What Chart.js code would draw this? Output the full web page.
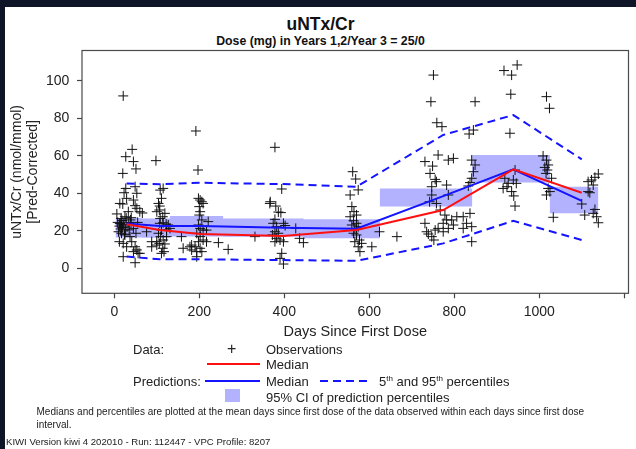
<!DOCTYPE html>
<html>
<head>
<meta charset="utf-8">
<title>uNTx/Cr VPC</title>
<script src="https://cdn.jsdelivr.net/npm/chart.js@4.4.0/dist/chart.umd.min.js"></script>
<style>
  html, body { margin: 0; padding: 0; background: #0d1526; }
  #page { position: relative; width: 636px; height: 449px; overflow: hidden; background: #0d1526;
          font-family: 'Liberation Sans', Arial, sans-serif; color: #222; }
  #panel { position: absolute; left: 5px; top: 7px; right: 0; bottom: 0; background: #fff; }
  #chart { position: absolute; left: 0; top: 0; }
  .t { position: absolute; white-space: nowrap; font-size: 13px; line-height: 15px; }
  .title { position: absolute; left: 0; width: 641px; text-align: center; font-weight: bold; color: #111; white-space: nowrap; }
  .swatch { position: absolute; }
  sup { font-size: 8px; line-height: 0; vertical-align: 5px; }
  .note { position: absolute; white-space: nowrap; color: #222; }
</style>
</head>
<body>
<div id="page">
  <div id="panel"></div>
  <div class="title" style="top:13.5px;font-size:17.5px;line-height:20px;">uNTx/Cr</div>
  <div class="title" style="top:33.5px;font-size:12.3px;line-height:15px;">Dose (mg) in Years 1,2/Year 3 = 25/0</div>
  <canvas id="chart" width="636" height="345"></canvas>

  <!-- legend -->
  <div class="t" style="left:133px;top:341.5px;">Data:</div>
  <div class="t" style="left:227px;top:340px;font-size:16px;line-height:18px;">+</div>
  <div class="t" style="left:266px;top:341.5px;">Observations</div>

  <div class="swatch" style="left:207px;top:362.5px;width:53px;height:2px;background:#ff1010;"></div>
  <div class="t" style="left:266px;top:356.5px;">Median</div>

  <div class="t" style="left:133px;top:373.5px;">Predictions:</div>
  <div class="swatch" style="left:205px;top:379.5px;width:55px;height:2px;background:#1414ff;"></div>
  <div class="t" style="left:266px;top:373.5px;">Median</div>
  <svg class="swatch" style="left:320px;top:375.5px;" width="48" height="10">
    <line x1="0" y1="5" x2="48" y2="5" stroke="#1414ff" stroke-width="2" stroke-dasharray="8,5"/>
  </svg>
  <div class="t" style="left:379px;top:373.5px;">5<sup>th</sup> and 95<sup>th</sup> percentiles</div>

  <div class="swatch" style="left:225px;top:389px;width:15px;height:13px;background:rgb(178,178,255);"></div>
  <div class="t" style="left:266px;top:389.5px;">95% CI of prediction percentiles</div>

  <div class="note" style="left:36.5px;top:404.6px;font-size:10px;line-height:13.3px;">Medians and percentiles are plotted at the mean days since first dose of the data observed within each days since first dose<br>interval.</div>
  <div class="note" style="left:6px;top:434.8px;font-size:9.6px;line-height:13px;">KIWI Version kiwi 4 202010 - Run: 112447 - VPC Profile: 8207</div>
</div>

<script>
// Bins: edges in days since first dose, and mean day of each bin
const binEdges = [3, 65, 131, 256, 445, 625, 842, 1025, 1139];
const binDays = [29, 107, 202, 397, 570, 774, 939, 1100];

// 95% CI of the predicted median, per bin
const ciLow  = [16.5, 16.3, 17.0, 16.9, 16.0, 33.0, 45.7, 29.3];
const ciHigh = [26.8, 26.6, 27.9, 26.6, 26.2, 42.6, 60.4, 43.5];

// Observed median and prediction percentiles at the bin means
const obsMedian  = [23.5, 20.4, 18.3, 17.2, 20.4, 31.1, 52.8, 40.3];
const predMedian = [23.9, 22.6, 22.6, 21.6, 21.1, 38.5, 52.8, 36.0];
const pred5      = [6.3, 4.8, 4.8, 4.4, 4.0, 13.3, 25.3, 15.1];
const pred95     = [45.2, 44.8, 45.6, 44.9, 43.5, 71.1, 81.7, 58.1];

// Prediction-corrected observations
const obsDays = [
  21,42,27,45,51,20,27,49,53,23,29,13,20,45,49,53,60,33,25,38,13,17,8,12,15,18,22,26,30,34,
  10,16,24,28,19,14,45,51,17,25,12,21,41,49,45,53,56,21,49,29,37,66,60,76,88,35,40,6,55,
  98,104,107,111,115,106,114,119,107,115,122,127,131,111,104,109,115,100,106,119,114,117,111,123,100,108,100,108,123,88,
  158,162,178,182,
  192,197,202,200,206,198,209,202,206,198,202,209,217,194,202,209,198,190,202,182,194,206,194,217,221,200,245,268,331,
  378,394,366,380,386,392,378,374,382,398,378,386,372,382,390,398,378,394,390,398,402,367,427,436,445,
  561,568,555,574,559,564,570,555,563,570,559,566,574,563,570,577,566,582,574,578,606,624,665,
  751,745,759,771,731,749,762,786,798,743,755,747,758,782,747,742,758,786,767,778,782,774,794,806,731,
  735,747,739,755,762,774,786,798,821,829,837,841,821,841,752,849,845,835,841,849,845,841,837,833,
  917,935,948,933,931,943,919,924,927,939,935,940,943,915,946,
  1017,1024,1009,1017,1021,1013,1019,1029,1016,1021,1017,1025,1033,
  1139,1131,1123,1115,1127,1115,1119,1100,1131,1107,1127,1135,1139
];
const obsValues = [
  91.9,63.4,59.5,56.9,53,50.6,42.6,43.5,40,40.3,37.3,34.6,34.3,36.4,33.4,32,30.2,30.2,27.5,25.8,24,23.1,24.5,22.5,21,25.5,23.5,20.5,22,24.5,
  19.5,26.5,18.2,26.8,21.8,23.8,21.3,18.7,18.7,17.8,14.2,13.3,14.2,11.5,8.9,9.8,8,6.2,3,11.5,16.9,29.5,8,19.5,14.2,20.5,27,29,24.5,
  57.4,34.6,33.2,37.3,42.6,31.1,27.5,29.3,24,24.3,23.6,23.1,21.3,20.4,18.7,16.9,15.1,14.2,13.3,13,10.7,8.9,8,16.9,12.4,41.7,30.2,26.6,20.4,11.5,
  16.9,10.7,11.5,12.4,
  73.2,52.4,36.4,32.9,35.5,37.3,34.6,30.2,25.8,23.1,21.3,20.4,20.4,18.7,16.9,15.1,14.2,11.5,10.7,9.8,8.9,8.9,6.2,14.2,24.9,28.4,13.7,10.1,16.9,
  64.5,42.3,34.6,33.2,30,29.7,26.1,24,22.2,24,19.5,18.7,17.8,16,15.1,14.2,14.2,8,5.3,2.3,22.8,35.5,21.3,16,13.7,
  51.5,47.6,39.1,41.8,32.9,30.2,28.4,27.5,25.4,24,23.1,21.3,22.2,18.7,17.8,15.1,14.2,13.3,11.5,8.9,11.5,19.5,16.9,
  103,88.8,77.6,75.5,56.9,54.5,60.4,57.7,58.6,50.6,47.4,43.5,46.2,44.4,39.1,35.5,34.6,39.1,31.1,28.4,25.8,24,25.8,27.5,24,
  19.5,16.9,18.3,20.4,21.3,19.5,21.3,23.1,27.5,24,29.3,22.2,21.3,14.2,15.1,88.8,73.7,71.6,57.7,55.1,51.5,48,45.7,43.9,
  105.4,103,108.4,92.8,72,52.4,48,43.5,45.3,47.1,40.9,38.6,33.2,42.6,45.3,
  91.5,85.3,59.9,57.7,55.1,53.8,52.4,48,50.6,42.6,39.1,40.9,27.2,
  50.3,48.5,47.1,46.2,44.4,40.9,40.3,34.3,31.4,28.4,29.3,27.5,24.3
];

// Axis ticks
const xTicks = [0, 200, 400, 600, 800, 1000, 1200];
const xLabelled = [0, 200, 400, 600, 800, 1000];
const yTicks = [0, 20, 40, 60, 80, 100];

const FONT = "'Liberation Sans', Arial, sans-serif";
Chart.defaults.font.family = FONT;
Chart.defaults.color = '#222';

const pairs = (xs, ys) => xs.map((x, i) => ({ x, y: ys[i] }));
// step outline of the CI boxes: each bin value is held until the next edge
const stepPts = vals => binEdges.map((x, i) => ({ x, y: vals[Math.min(i, vals.length - 1)] }));

const CANVAS_H = 345;
const AREA = { left: 82, right: 628.5, top: 50.5, bottom: 293.3 };

const frame = {
  id: 'frame',
  afterDraw(chart) {
    const { ctx, chartArea: a } = chart;
    ctx.save();
    ctx.strokeStyle = '#4a4a4a';
    ctx.lineWidth = 1.2;
    ctx.strokeRect(a.left, a.top, a.right - a.left, a.bottom - a.top);
    ctx.restore();
  }
};

const lineDs = (data, color, extra) => Object.assign({
  type: 'line', data, borderColor: color, borderWidth: 2, pointRadius: 0,
  tension: 0, fill: false
}, extra);

new Chart(document.getElementById('chart'), {
  type: 'scatter',
  data: {
    datasets: [
      // 95% CI boxes (upper outline, then lower outline filled up to it)
      lineDs(stepPts(ciHigh), 'rgba(0,0,0,0)', { borderWidth: 0, stepped: true, order: 6 }),
      lineDs(stepPts(ciLow), 'rgba(0,0,0,0)', {
        borderWidth: 0, stepped: true, order: 6,
        fill: '-1', backgroundColor: 'rgba(102,102,255,0.5)'
      }),
      {
        type: 'scatter', data: pairs(obsDays, obsValues),
        pointStyle: 'cross', pointRadius: 5, pointHoverRadius: 5,
        borderColor: '#111', backgroundColor: '#111', pointBorderWidth: 1, order: 5
      },
      lineDs(pairs(binDays, pred5), '#1414ff', { borderDash: [8, 5], order: 4 }),
      lineDs(pairs(binDays, pred95), '#1414ff', { borderDash: [8, 5], order: 4 }),
      lineDs(pairs(binDays, predMedian), '#1414ff', { order: 3 }),
      lineDs(pairs(binDays, obsMedian), '#ff1010', { order: 2 })
    ]
  },
  options: {
    responsive: false,
    animation: false,
    events: [],
    layout: { padding: { top: AREA.top, left: 0, right: 636 - AREA.right, bottom: 0 } },
    plugins: { legend: { display: false }, tooltip: { enabled: false }, title: { display: false } },
    scales: {
      x: {
        type: 'linear', min: -76, max: 1210,
        afterBuildTicks: ax => { ax.ticks = xTicks.map(v => ({ value: v })); },
        afterFit: ax => { ax.height = CANVAS_H - AREA.bottom; },
        border: { display: false },
        grid: { display: true, drawOnChartArea: false, drawTicks: true, tickLength: 5, tickColor: '#444', tickWidth: 1.2 },
        ticks: {
          autoSkip: false, maxRotation: 0, padding: 5.3, color: '#222', font: { size: 14 },
          callback: v => xLabelled.includes(v) ? String(v) : ''
        },
        title: { display: true, text: 'Days Since First Dose', color: '#222', font: { size: 14.5 }, padding: { top: 0, bottom: 4.3 } }
      },
      y: {
        type: 'linear', min: -13.3, max: 116.1,
        afterBuildTicks: ax => { ax.ticks = yTicks.map(v => ({ value: v })); },
        afterFit: ax => { ax.width = AREA.left; },
        border: { display: false },
        grid: { display: true, drawOnChartArea: false, drawTicks: true, tickLength: 5, tickColor: '#444', tickWidth: 1.2 },
        ticks: { padding: 7.7, color: '#222', font: { size: 14 } },
        title: {
          display: true, text: ['uNTx/Cr (nmol/mmol)', '[Pred-Corrected]'], color: '#222',
          font: { size: 14, lineHeight: 1.13 }, padding: { top: 9.3, bottom: 0 }
        }
      }
    }
  },
  plugins: [frame]
});
</script>
</body>
</html>
